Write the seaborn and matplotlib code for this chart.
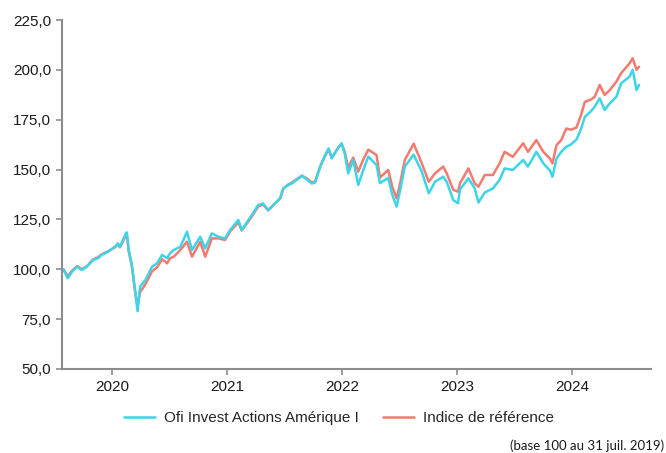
import pandas as pd
import matplotlib.pyplot as plt
import matplotlib.dates as mdates
from matplotlib.ticker import FuncFormatter
import seaborn as sns

# Donnees (base 100 au 31 juil. 2019)
dates = [
    '2019-07-31', '2019-08-13', '2019-08-27', '2019-09-12', '2019-09-27', '2019-10-13',
    '2019-11-02', '2019-11-17', '2019-11-29', '2019-12-19', '2020-01-10', '2020-01-20',
    '2020-01-26', '2020-02-11', '2020-02-17', '2020-02-23', '2020-03-04', '2020-03-14',
    '2020-03-22', '2020-03-30', '2020-04-16', '2020-05-07', '2020-05-23', '2020-06-08',
    '2020-06-24', '2020-07-03', '2020-07-15', '2020-08-05', '2020-08-26', '2020-09-11',
    '2020-10-07', '2020-10-23', '2020-11-13', '2020-12-04', '2020-12-25', '2021-01-10',
    '2021-02-05', '2021-02-16', '2021-03-09', '2021-03-20', '2021-04-09', '2021-04-25',
    '2021-05-11', '2021-06-01', '2021-06-18', '2021-06-28', '2021-07-14', '2021-07-25',
    '2021-08-04', '2021-08-26', '2021-09-11', '2021-09-27', '2021-10-07', '2021-10-23',
    '2021-11-08', '2021-11-19', '2021-11-29', '2021-12-15', '2021-12-30', '2022-01-09',
    '2022-01-20', '2022-02-05', '2022-02-21', '2022-03-09', '2022-03-25', '2022-04-20',
    '2022-05-01', '2022-05-27', '2022-06-10', '2022-06-23', '2022-07-03', '2022-07-19',
    '2022-08-16', '2022-09-11', '2022-10-03', '2022-10-23', '2022-11-18', '2022-11-29',
    '2022-12-20', '2023-01-04', '2023-01-10', '2023-02-06', '2023-02-26', '2023-03-10',
    '2023-03-30', '2023-04-25', '2023-05-16', '2023-06-01', '2023-06-27', '2023-07-30',
    '2023-08-14', '2023-09-10', '2023-10-02', '2023-10-23', '2023-10-31', '2023-11-13',
    '2023-11-28', '2023-12-14', '2023-12-28', '2024-01-15', '2024-01-29', '2024-02-11',
    '2024-02-29', '2024-03-13', '2024-03-29', '2024-04-14', '2024-04-30', '2024-05-21',
    '2024-06-05', '2024-07-02', '2024-07-12', '2024-07-24', '2024-08-01',
]

fonds = [
    100.0, 95.5, 98.8, 101.3, 99.6, 101.3,
    104.7, 105.5, 107.2, 108.8, 111.3, 113.0,
    111.3, 117.0, 118.5, 109.7, 102.1, 89.6,
    79.0, 91.3, 94.6, 101.3, 103.0, 107.2,
    105.5, 108.0, 109.7, 111.3, 118.8, 109.7,
    116.3, 110.5, 118.0, 116.3, 115.5, 119.7,
    124.7, 119.7, 124.7, 127.2, 132.2, 133.0,
    129.7, 133.0, 135.6, 140.6, 142.3, 143.0,
    144.2, 146.8, 145.0, 143.0, 143.5, 151.4,
    157.3, 160.6, 155.6, 159.8, 163.2, 158.1,
    148.1, 154.8, 142.3, 149.8, 156.5, 152.3,
    143.2, 145.8, 137.0, 131.4, 138.9, 151.5,
    157.5, 148.9, 138.1, 143.9, 146.4, 143.9,
    134.7, 133.1, 140.0, 145.6, 140.6, 133.5,
    138.5, 140.6, 144.8, 150.6, 149.8, 154.8,
    151.5, 158.9, 153.1, 149.5, 146.4, 155.6,
    158.9, 161.5, 162.5, 165.0, 170.0, 176.5,
    179.0, 181.5, 185.7, 179.9, 183.2, 186.5,
    193.2, 196.6, 200.0, 189.9, 192.4,
]

indice = [
    100.0, 96.5, 99.3, 101.6, 100.0, 101.5,
    105.0, 106.0, 107.5, 109.0, 111.0, 112.5,
    111.0, 116.0, 117.0, 109.0, 101.5, 89.0,
    81.5, 88.5, 92.5, 99.0, 101.0, 105.0,
    103.0, 105.5, 106.3, 109.7, 113.8, 106.3,
    113.8, 106.3, 115.5, 115.5, 114.7, 119.0,
    123.5, 119.5, 124.0, 126.5, 131.5, 132.5,
    129.5, 133.0, 135.5, 140.5, 142.5, 143.5,
    144.5, 147.0, 145.5, 143.5, 144.0, 151.5,
    157.0, 160.0, 156.0, 160.0, 163.0, 159.0,
    151.0, 156.0, 149.0, 155.0, 160.0, 157.3,
    146.0, 149.8, 141.0, 135.6, 142.3, 154.8,
    163.0, 153.1, 143.9, 148.1, 151.5, 148.1,
    139.8, 138.9, 143.1, 150.6, 143.1, 141.4,
    147.3, 147.3, 153.1, 158.9, 156.4, 163.2,
    158.9, 164.8, 158.9, 155.5, 153.1, 162.3,
    164.8, 170.6, 170.0, 171.0, 177.0, 184.0,
    185.0, 186.5, 192.4, 187.4, 189.9, 194.1,
    198.3, 203.3, 205.8, 200.0, 201.6,
]

df = pd.DataFrame({'Date': pd.to_datetime(dates), 'Fonds': fonds, 'Indice': indice})

sns.set_style('ticks')
plt.rcParams['font.family'] = ['Liberation Sans', 'DejaVu Sans']

fig = plt.figure(figsize=(6.66, 4.53), dpi=100)
ax = fig.add_axes([62 / 666, 1 - 369 / 453, (651 - 62) / 666, (369 - 20) / 453])

# l'indice d'abord, le fonds par-dessus
sns.lineplot(data=df, x='Date', y='Indice', color='#f27a6e', lw=1.8, ax=ax,
             label='Indice de référence')
sns.lineplot(data=df, x='Date', y='Fonds', color='#3dd4e7', lw=1.8, ax=ax,
             label='Ofi Invest Actions Amérique I')

ax.set_ylim(50, 225)
ax.set_yticks(range(50, 226, 25))
ax.yaxis.set_major_formatter(FuncFormatter(lambda v, p: f'{v:.1f}'.replace('.', ',')))
ax.set_xlim(pd.Timestamp('2019-07-26'), pd.Timestamp('2024-09-08'))
ax.xaxis.set_major_locator(mdates.YearLocator())
ax.xaxis.set_major_formatter(mdates.DateFormatter('%Y'))
ax.set_xlabel('')
ax.set_ylabel('')

for side in ['top', 'right']:
    ax.spines[side].set_visible(False)
for side in ['left', 'bottom']:
    ax.spines[side].set_color('#8c8c8c')
    ax.spines[side].set_linewidth(1.5)
ax.tick_params(axis='both', colors='#8c8c8c', width=1.2, length=4, labelsize=11,
               labelcolor='#1a1a1a')
ax.tick_params(axis='y', pad=4)
ax.tick_params(axis='x', pad=4)

handles, labels = ax.get_legend_handles_labels()
ax.get_legend().remove()
fig.legend(handles[::-1], labels[::-1], loc='center', ncol=2, frameon=False,
           bbox_to_anchor=(339 / 666, 1 - 418 / 453), fontsize=11,
           handlelength=2.0, columnspacing=1.6, handletextpad=0.6)

fig.text(0.997, 1 - 446 / 453, '(base 100 au 31 juil. 2019)', ha='right', va='center',
         fontsize=9.5, color='#1a1a1a', family=['Lato', 'DejaVu Sans'])

fig.savefig('out.png', dpi=100)
